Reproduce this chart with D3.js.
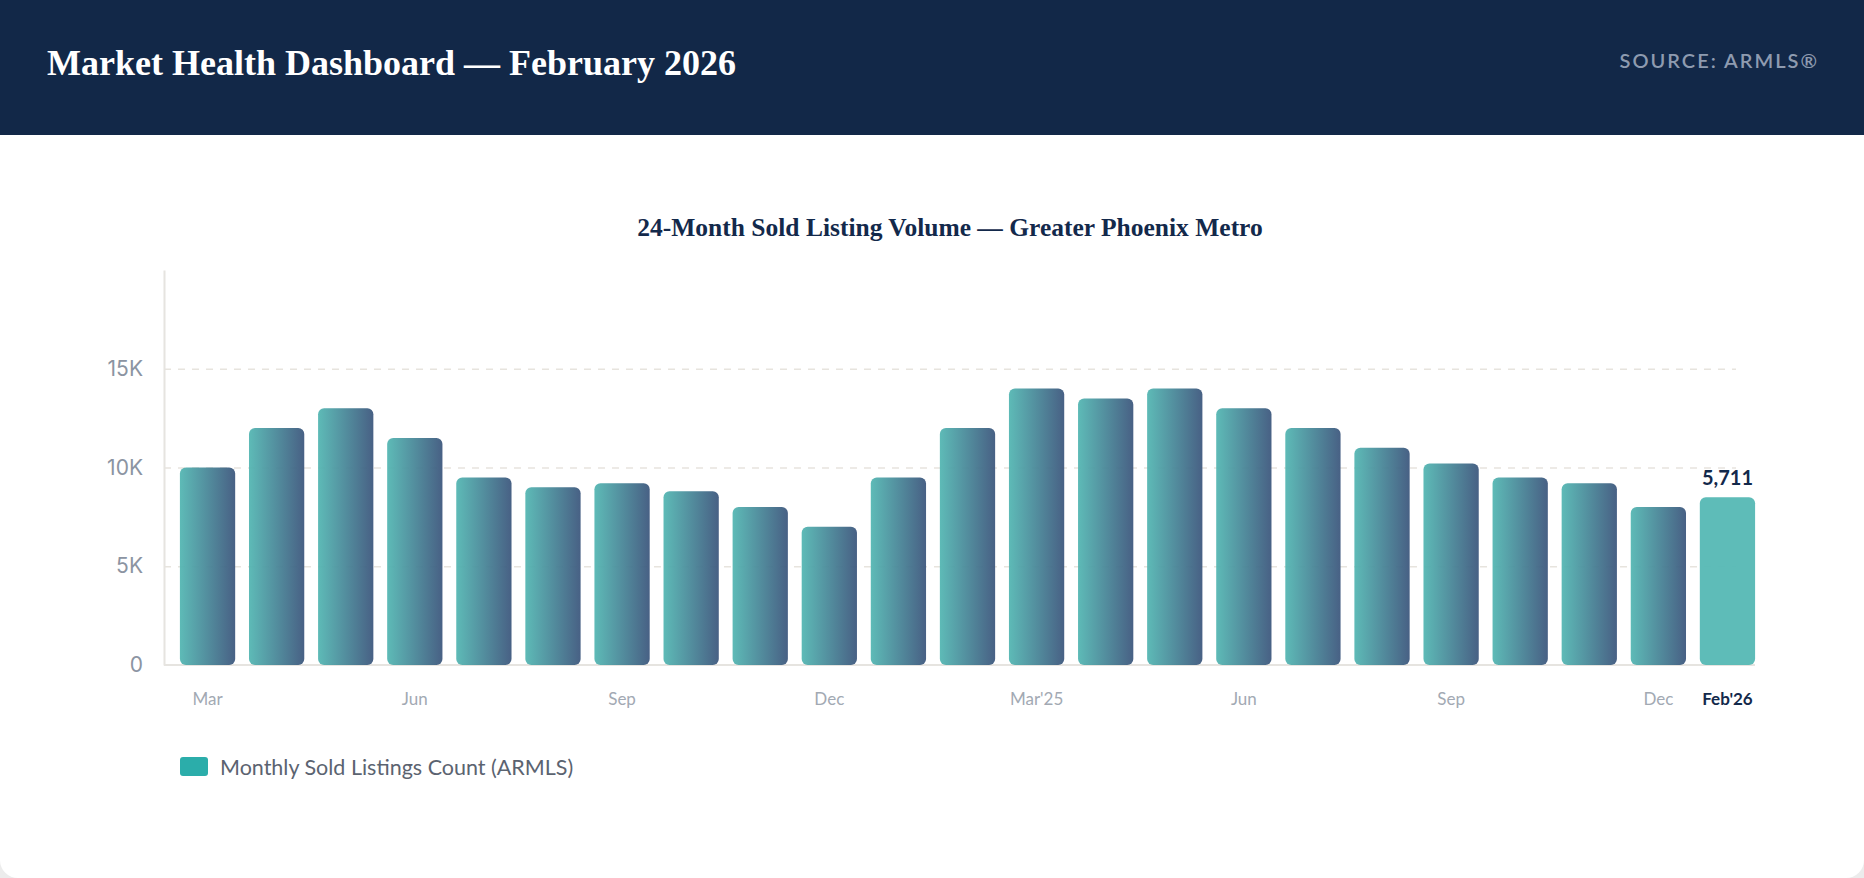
<!DOCTYPE html>
<html>
<head>
<meta charset="utf-8">
<script src="https://cdn.jsdelivr.net/npm/d3@7"></script>
<style>
  html, body { margin: 0; padding: 0; background: #ececec; }
  #card { width: 1864px; height: 878px; background: #fff; border-radius: 0 0 18px 18px; overflow: hidden; position: relative; }
  svg { display: block; }
</style>
</head>
<body>
<div id="card"><div id="chart"></div></div>
<script>
// month labels for every bar (only some are shown on the axis)
var months = ["Mar", "Apr", "May", "Jun", "Jul", "Aug", "Sep", "Oct", "Nov", "Dec", "Jan", "Feb",
              "Mar'25", "Apr'25", "May'25", "Jun'25", "Jul'25", "Aug'25", "Sep'25", "Oct'25", "Nov'25", "Dec'25", "Feb'26"];
var sold = [10000, 12000, 13000, 11500, 9500, 9000, 9200, 8800, 8000, 7000, 9500, 12000,
            14000, 13500, 14000, 13000, 12000, 11000, 10200, 9500, 9200, 8000, 8500];
var shownTicks = {"Mar": "Mar", "Jun": "Jun", "Sep": "Sep", "Dec": "Dec", "Mar'25": "Mar'25",
                  "Jun'25": "Jun", "Sep'25": "Sep", "Dec'25": "Dec", "Feb'26": "Feb'26"};
var yTicks = [0, 5000, 10000, 15000];
var lastLabel = "5,711";
var legendLabel = "Monthly Sold Listings Count (ARMLS)";

var width = 1864, height = 878;
var margin = {top: 270, left: 164, right: 128, bottom: 213};

var svg = d3.select("#chart").append("svg")
    .attr("width", width)
    .attr("height", height);

var defs = svg.append("defs");
var grad = defs.append("linearGradient")
    .attr("id", "barGrad")
    .attr("x1", "0%").attr("x2", "100%").attr("y1", "0%").attr("y2", "0%");
grad.append("stop").attr("offset", "0%").attr("stop-color", "#55b7b3");
grad.append("stop").attr("offset", "100%").attr("stop-color", "#3e587e");

// header band
svg.append("rect")
    .attr("x", 0).attr("y", 0)
    .attr("width", width).attr("height", 135)
    .attr("fill", "#122848");

svg.append("text")
    .attr("x", 47).attr("y", 75)
    .attr("font-family", "'Liberation Serif', serif")
    .attr("font-size", 36)
    .attr("font-weight", "bold")
    .attr("fill", "#ffffff")
    .text("Market Health Dashboard \u2014 February 2026");

svg.append("text")
    .attr("x", 1819).attr("y", 68)
    .attr("text-anchor", "end")
    .attr("font-family", "Lato, sans-serif")
    .attr("font-size", 20)
    .attr("font-weight", 600)
    .attr("letter-spacing", 2)
    .attr("fill", "#8e9bb0")
    .text("SOURCE: ARMLS\u00ae");

var xScale = d3.scaleBand()
    .domain(months)
    .range([173, 1762])
    .paddingInner(0.2)
    .paddingOuter(0.1);

var yScale = d3.scaleLinear()
    .domain([0, 20000])
    .range([665, 270]);

// chart title
svg.append("text")
    .attr("x", 950).attr("y", 236)
    .attr("text-anchor", "middle")
    .attr("font-family", "'Liberation Serif', serif")
    .attr("font-size", 25.5)
    .attr("font-weight", "bold")
    .attr("fill", "#13294b")
    .text("24-Month Sold Listing Volume \u2014 Greater Phoenix Metro");

// dashed grid
var grid = svg.append("g")
    .attr("transform", "translate(" + margin.left + ",0)")
    .call(d3.axisLeft(yScale).tickValues(yTicks.slice(1)).tickSize(-(1736 - margin.left)).tickFormat(""));
grid.select(".domain").remove();
grid.selectAll("line")
    .attr("stroke", "#e7e4de")
    .attr("stroke-width", 1.5)
    .attr("stroke-dasharray", "7,7");

// y axis
var yAxis = svg.append("g")
    .attr("transform", "translate(" + margin.left + ",0)")
    .call(d3.axisLeft(yScale).tickValues(yTicks).tickSizeInner(0).tickSizeOuter(0).tickPadding(21)
        .tickFormat(function(d) { return d === 0 ? "0" : (d / 1000) + "K"; }));
yAxis.select(".domain").attr("stroke", "#e6e4e0").attr("stroke-width", 2);
yAxis.selectAll("text")
    .attr("font-family", "Inter, sans-serif")
    .attr("font-size", 21)
    .attr("fill", "#8b94a2");

// baseline
svg.append("line")
    .attr("x1", margin.left).attr("x2", 1755)
    .attr("y1", yScale(0)).attr("y2", yScale(0))
    .attr("stroke", "#e6e4e0")
    .attr("stroke-width", 2);

// bars
svg.selectAll("rect.bar")
    .data(sold)
    .enter()
    .append("rect")
    .attr("class", "bar")
    .attr("x", function(d, i) { return xScale(months[i]); })
    .attr("y", function(d) { return yScale(d); })
    .attr("width", xScale.bandwidth())
    .attr("height", function(d) { return yScale(0) - yScale(d); })
    .attr("rx", 6)
    .attr("fill", function(d, i) { return i === sold.length - 1 ? "#55b8b4" : "url(#barGrad)"; })
    .attr("fill-opacity", 0.95);

// x axis labels
var xAxis = svg.append("g")
    .attr("transform", "translate(0," + yScale(0) + ")")
    .call(d3.axisBottom(xScale).tickSize(0).tickPadding(28)
        .tickFormat(function(d) { return shownTicks[d] || ""; }));
xAxis.select(".domain").remove();
xAxis.selectAll("text")
    .attr("font-family", "Lato, sans-serif")
    .attr("font-size", 17)
    .attr("fill", "#a2a9b3");
xAxis.selectAll("text")
    .filter(function(d) { return d === "Feb'26"; })
    .attr("font-weight", "bold")
    .attr("fill", "#13294b");

// value label on latest bar
var last = months[months.length - 1];
svg.append("text")
    .attr("x", xScale(last) + xScale.bandwidth() / 2)
    .attr("y", yScale(sold[sold.length - 1]) - 12)
    .attr("text-anchor", "middle")
    .attr("font-family", "Lato, sans-serif")
    .attr("font-size", 20)
    .attr("font-weight", "bold")
    .attr("fill", "#13294b")
    .text(lastLabel);

// legend
svg.append("rect")
    .attr("x", 180).attr("y", 757)
    .attr("width", 28).attr("height", 19)
    .attr("rx", 3)
    .attr("fill", "#2badaa");
svg.append("text")
    .attr("x", 220).attr("y", 775)
    .attr("font-family", "Lato, sans-serif")
    .attr("font-size", 21.5)
    .attr("fill", "#5b6370")
    .text(legendLabel);
</script>
</body>
</html>
